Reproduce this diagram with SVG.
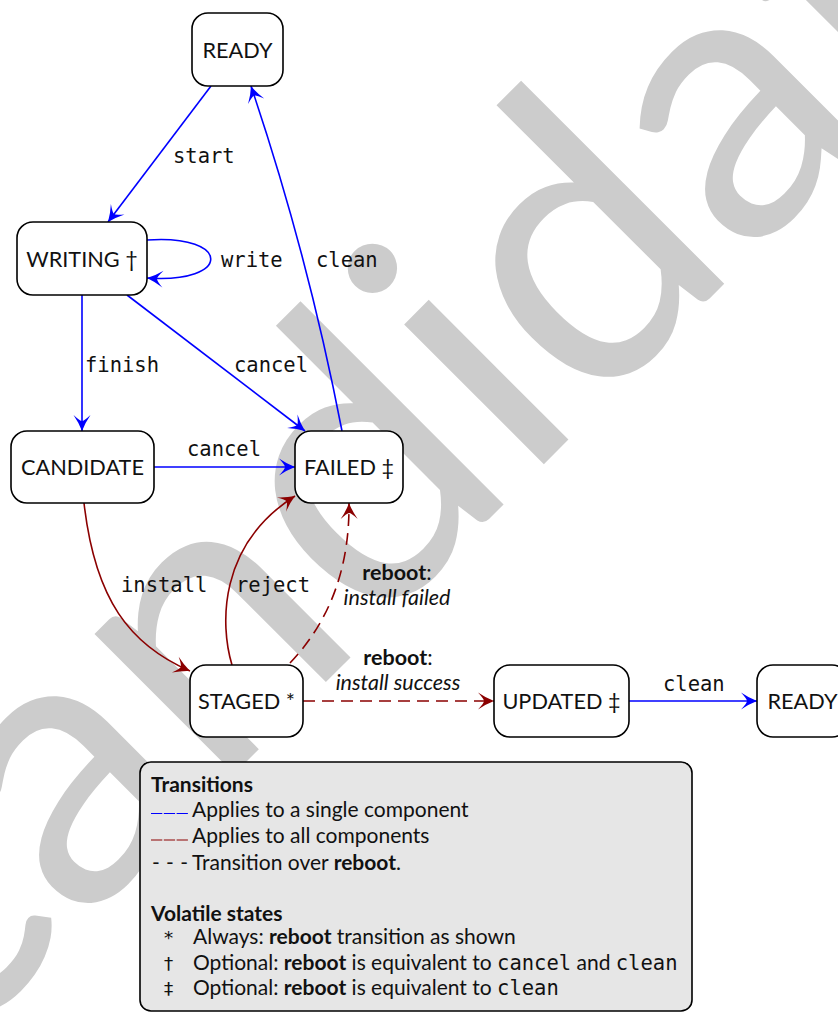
<svg xmlns="http://www.w3.org/2000/svg" width="838" height="1012" viewBox="0 0 838 1012">
  <style>
    .node rect { fill: #ffffff; stroke: #000000; stroke-width: 1.6; }
    .node text { font-family: Lato, "Liberation Sans", sans-serif; font-size: 21.7px; text-anchor: middle; fill: #111; }
    .edge { fill: none; stroke-width: 1.6; }
    .blue { stroke: #0000ff; marker-end: url(#arrow-blue); }
    .red { stroke: #8b0000; marker-end: url(#arrow-red); }
    .dash { stroke-dasharray: 12 7; }
    .lbl { font-family: "DejaVu Sans Mono", "Liberation Mono", monospace; font-size: 20.5px; fill: #111; }
    .rlbl { font-family: Lato, "Liberation Sans", sans-serif; font-size: 21.5px; text-anchor: middle; fill: #111; }
    .leg { font-family: Lato, "Liberation Sans", sans-serif; font-size: 21px; fill: #111; }
    .mono { font-family: "DejaVu Sans Mono", "Liberation Mono", monospace; font-size: 20.5px; }
    .sym { font-family: "DejaVu Sans Mono", "Liberation Mono", monospace; font-size: 18.5px; }
    .b { font-weight: bold; }
    .watermark { font-family: Lato, "Liberation Sans", sans-serif; font-size: 390px; fill: #cccccc; }
  </style>
  <defs>
    <marker id="arrow-blue" viewBox="-17 -10 18 20" refX="0" refY="0" markerWidth="18" markerHeight="20" markerUnits="userSpaceOnUse" orient="auto">
      <path d="M0,0 Q-8,-3 -16,-8.5 Q-10,-2 -10,0 Q-10,2 -16,8.5 Q-8,3 0,0 Z" fill="#0000ff"/>
    </marker>
    <marker id="arrow-red" viewBox="-17 -10 18 20" refX="0" refY="0" markerWidth="18" markerHeight="20" markerUnits="userSpaceOnUse" orient="auto">
      <path d="M0,0 Q-8,-3 -16,-8.5 Q-10,-2 -10,0 Q-10,2 -16,8.5 Q-8,3 0,0 Z" fill="#8b0000"/>
    </marker>
  </defs>

  <rect width="838" height="1012" fill="#ffffff"/>

  <!-- background stamp -->
  <text class="watermark" transform="translate(-54,1062) rotate(-45)">candidate</text>

  <!-- transitions -->
  <g id="connectors">
    <path class="edge blue" d="M211,86 L108,222"/>
    <path class="edge blue" d="M147,240 C232,234 232,284 147,278"/>
    <path class="edge blue" d="M342,431 Q308,255 251,86"/>
    <path class="edge blue" d="M82,295 L82,431"/>
    <path class="edge blue" d="M127,295 L305,431"/>
    <path class="edge blue" d="M154,467 L295,467"/>
    <path class="edge red" d="M84,503 C95,600 130,645 190,671"/>
    <path class="edge red" d="M232,665 C220,625 218,545 295,496"/>
    <path class="edge red dash" d="M290,663 Q350,600 349,503"/>
    <path class="edge red dash" d="M303,701 L494,701"/>
    <path class="edge blue" d="M629,701 L757,701"/>

    <text class="lbl" x="173" y="163">start</text>
    <text class="lbl" x="221" y="267">write</text>
    <text class="lbl" x="316" y="267">clean</text>
    <text class="lbl" x="85" y="372">finish</text>
    <text class="lbl" x="234" y="372">cancel</text>
    <text class="lbl" x="187" y="456">cancel</text>
    <text class="lbl" x="121" y="592">install</text>
    <text class="lbl" x="236" y="592">reject</text>
    <text class="rlbl" x="397" y="580"><tspan class="b">reboot</tspan>:</text>
    <text class="rlbl" x="397" y="605" font-style="italic">install failed</text>
    <text class="rlbl" x="398" y="665"><tspan class="b">reboot</tspan>:</text>
    <text class="rlbl" x="398" y="690" font-style="italic">install success</text>
    <text class="lbl" x="663" y="691">clean</text>
  </g>

  <!-- states -->
  <g id="ready" class="node">
    <rect x="192" y="13" width="91" height="73" rx="16"/>
    <text x="237.5" y="57.5">READY</text>
  </g>
  <g id="writing" class="node">
    <rect x="17" y="222" width="130" height="73" rx="16"/>
    <text x="82" y="266.5">WRITING †</text>
  </g>
  <g id="candidate" class="node">
    <rect x="11" y="431" width="143" height="72" rx="16"/>
    <text x="82.5" y="475">CANDIDATE</text>
  </g>
  <g id="failed" class="node">
    <rect x="295" y="431" width="108" height="72" rx="16"/>
    <text x="349" y="475">FAILED ‡</text>
  </g>
  <g id="staged" class="node">
    <rect x="190" y="665" width="113" height="72" rx="16"/>
    <text x="246.5" y="709">STAGED *</text>
  </g>
  <g id="updated" class="node">
    <rect x="494" y="665" width="135" height="72" rx="16"/>
    <text x="561.5" y="709">UPDATED ‡</text>
  </g>
  <g id="ready-final" class="node">
    <rect x="757" y="665" width="91" height="72" rx="16"/>
    <text x="802.5" y="709">READY</text>
  </g>

  <!-- key -->
  <g id="legend">
    <rect x="140" y="762" width="552" height="249" rx="11" fill="#e6e6e6" stroke="#000" stroke-width="1.6"/>
    <text class="leg b" x="151" y="792">Transitions</text>
    <line x1="151" y1="813.5" x2="188" y2="813.5" stroke="#0000ff" stroke-width="1.2" stroke-dasharray="11.3 1.5"/>
    <text class="leg" x="192" y="817">Applies to a single component</text>
    <line x1="151" y1="840" x2="188" y2="840" stroke="#8b0000" stroke-width="1.2" stroke-dasharray="11.3 1.5"/>
    <text class="leg" x="192" y="843">Applies to all components</text>
    <text class="leg" x="152" y="870" textLength="36" lengthAdjust="spacing">- - -</text>
    <text class="leg" x="192" y="870">Transition over <tspan class="b">reboot</tspan>.</text>
    <text class="leg b" x="151" y="921">Volatile states</text>
    <text class="leg sym" x="163" y="944">*</text>
    <text class="leg" x="193" y="944">Always: <tspan class="b">reboot</tspan> transition as shown</text>
    <text class="leg sym" x="163" y="970">†</text>
    <text class="leg" x="193" y="970">Optional: <tspan class="b">reboot</tspan> is equivalent to <tspan class="mono">cancel</tspan> and <tspan class="mono">clean</tspan></text>
    <text class="leg sym" x="163" y="995">‡</text>
    <text class="leg" x="193" y="995">Optional: <tspan class="b">reboot</tspan> is equivalent to <tspan class="mono">clean</tspan></text>
  </g>
</svg>
